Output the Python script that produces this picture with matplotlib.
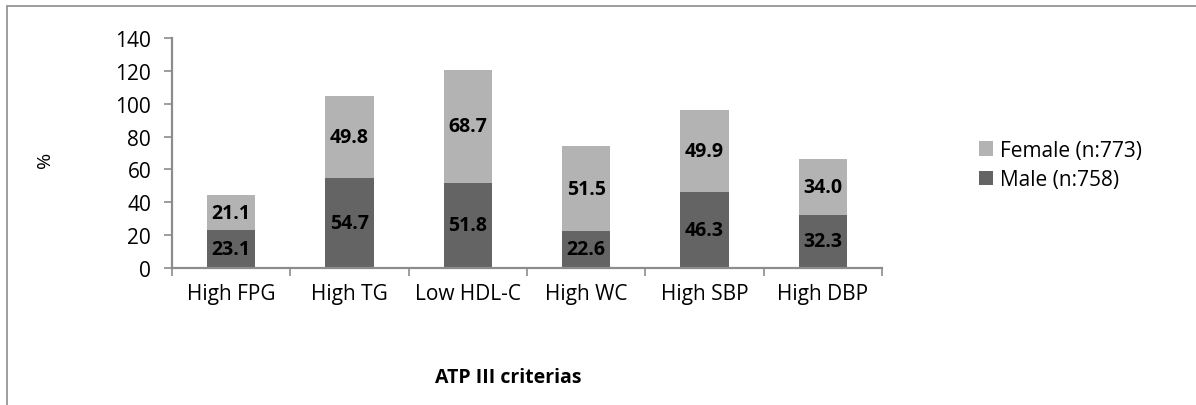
import numpy as np
import matplotlib
matplotlib.use('Agg')
import matplotlib.pyplot as plt
from matplotlib.patches import Rectangle

plt.rcParams['font.family'] = ['Open Sans', 'DejaVu Sans']

categories = ['High FPG', 'High TG', 'Low HDL-C', 'High WC', 'High SBP', 'High DBP']
male = [23.1, 54.7, 51.8, 22.6, 46.3, 32.3]
female = [21.1, 49.8, 68.7, 51.5, 49.9, 34.0]
male_label = 'Male (n:758)'
female_label = 'Female (n:773)'

MALE_COLOR = '#646464'
FEMALE_COLOR = '#b3b3b3'
AXIS_COLOR = '#8c8c8c'

fig = plt.figure(figsize=(11.96, 4.06), dpi=100)
ax = fig.add_axes([172 / 1196, 1 - 269 / 406, 710 / 1196, 230 / 406])

# outer chart border
fig.patches.append(Rectangle((7 / 1196, -0.1), 1.2, 1 - 7 / 406 + 0.1,
                             transform=fig.transFigure, fill=False,
                             edgecolor=AXIS_COLOR, linewidth=1.2))

x = np.arange(len(categories))
w = 0.41
b1 = ax.bar(x, male, w, color=MALE_COLOR, label=male_label)
b2 = ax.bar(x, female, w, bottom=male, color=FEMALE_COLOR, label=female_label)

for xi, m, f in zip(x, male, female):
    ax.text(xi, m / 2, f'{m:.1f}', ha='center', va='center',
            fontsize=14, fontweight='bold', color='black')
    ax.text(xi, m + f / 2, f'{f:.1f}', ha='center', va='center',
            fontsize=14, fontweight='bold', color='black')

ax.set_xlim(-0.5, len(categories) - 0.5)
ax.set_ylim(0, 140)
ax.set_yticks(np.arange(0, 141, 20))
ax.set_xticks(x)
ax.set_xticklabels(categories, fontsize=15)
ax.set_xticks(np.arange(-0.5, len(categories)), minor=True)
ax.tick_params(axis='x', which='major', length=0, pad=11)
ax.tick_params(axis='x', which='minor', length=6, color=AXIS_COLOR, width=1.2)
ax.tick_params(axis='y', length=6, color=AXIS_COLOR, width=1.2, labelsize=15, pad=9)

for side in ['top', 'right']:
    ax.spines[side].set_visible(False)
for side in ['left', 'bottom']:
    ax.spines[side].set_color(AXIS_COLOR)
    ax.spines[side].set_linewidth(1.6)

fig.text(45 / 1196, 1 - 160 / 406, '%', rotation=90, ha='center', va='center', fontsize=14)
fig.text(508 / 1196, 1 - 378 / 406, 'ATP III criterias', ha='center', va='center',
         fontsize=14, fontweight='bold')

handles = [b2, b1]
leg = fig.legend(handles, [female_label, male_label], loc='upper left',
                 bbox_to_anchor=(960 / 1196, 1 - 122 / 406), frameon=False,
                 fontsize=15, handlelength=0.7, handleheight=0.7,
                 handletextpad=0.3, labelspacing=0.4)

fig.savefig('out.png', dpi=100)
